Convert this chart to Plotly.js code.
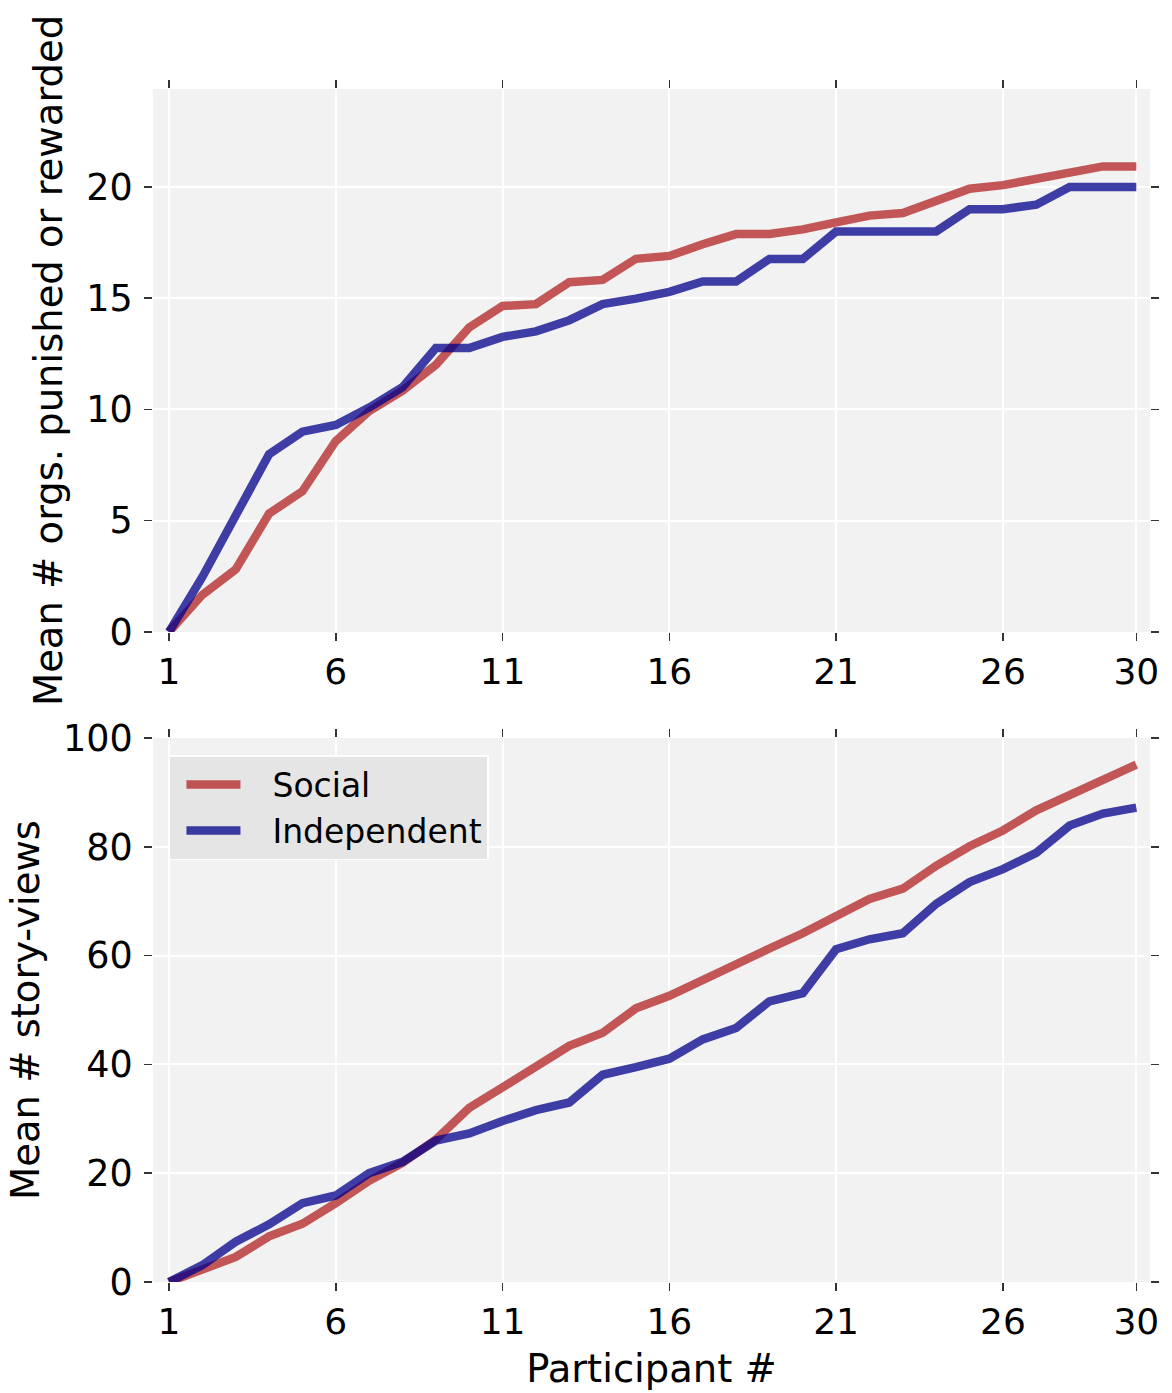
<!DOCTYPE html>
<html>
<head>
<meta charset="utf-8">
<script src="https://cdn.plot.ly/plotly-3.0.1.min.js"></script>
<style>html,body{margin:0;padding:0;background:#fff;}#chart{width:1172px;height:1393px;}</style>
</head>
<body>
<div id="chart"></div>
<script>
const participants = Array.from({length: 30}, (_, i) => i + 1);
const xTickVals = [1, 6, 11, 16, 21, 26, 30];
const xTickText = ["1", "6", "11", "16", "21", "26", "30"];

const orgsSocial = [0, 1.67, 2.81, 5.32, 6.32, 8.58, 9.92, 10.84, 12.0, 13.68,
  14.65, 14.73, 15.72, 15.82, 16.77, 16.9, 17.42, 17.88, 17.88, 18.09,
  18.41, 18.71, 18.83, 19.33, 19.92, 20.08, 20.35, 20.7, 20.92, 20.92];
const orgsIndependent = [0, 2.47, 5.23, 7.99, 9.0, 9.3, 10.08, 11.0, 12.76, 12.76,
  13.26, 13.51, 14.01, 14.73, 14.98, 15.28, 15.75, 15.75, 16.76, 16.76,
  18.0, 18.0, 18.0, 18.0, 19.0, 19.0, 19.2, 20.0, 20.0, 20.0];

const viewsSocial = [0, 2.25, 4.6, 8.4, 10.7, 14.5, 18.6, 21.9, 26.2, 32.0,
  35.7, 39.8, 43.4, 45.8, 50.3, 52.6, 55.5, 58.8, 61.3, 64.1,
  67.3, 70.4, 72.3, 76.5, 80.1, 83.0, 86.7, 89.5, 92.4, 95.1];
const viewsIndependent = [0, 3.1, 7.4, 10.6, 14.5, 15.9, 20.0, 22.1, 26.0, 27.3,
  29.6, 31.6, 33.0, 38.1, 39.5, 41.05, 44.6, 46.7, 51.6, 53.1,
  61.2, 63.0, 64.1, 69.5, 73.5, 75.9, 78.9, 83.9, 86.1, 87.2];

const seriesNames = ["Social", "Independent"];
const legendGap = "\u2002\u00a0";

const socialColor = "rgba(178,34,34,0.75)";
const indepColor = "rgba(0,0,139,0.75)";
const FONT = "DejaVu Sans, sans-serif";

const traces = [
  {x: participants, y: orgsSocial, xaxis: "x", yaxis: "y", type: "scatter", mode: "lines",
   name: legendGap + seriesNames[0], line: {color: socialColor, width: 8.5}, showlegend: false},
  {x: participants, y: orgsIndependent, xaxis: "x", yaxis: "y", type: "scatter", mode: "lines",
   name: legendGap + seriesNames[1], line: {color: indepColor, width: 8.5}, showlegend: false},
  {x: participants, y: viewsSocial, xaxis: "x2", yaxis: "y2", type: "scatter", mode: "lines",
   name: legendGap + seriesNames[0], line: {color: socialColor, width: 8.5}},
  {x: participants, y: viewsIndependent, xaxis: "x2", yaxis: "y2", type: "scatter", mode: "lines",
   name: legendGap + seriesNames[1], line: {color: indepColor, width: 8.5}}
];

const xBase = {
  range: [0.52, 30.41], tickmode: "array", tickvals: xTickVals, ticktext: xTickText,
  ticks: "outside", ticklen: 8, tickwidth: 1.5, tickcolor: "#333", mirror: "ticks",
  showline: false, zeroline: false, showgrid: true, gridcolor: "#ffffff", gridwidth: 2,
  tickfont: {family: FONT, size: 36, color: "#000"}
};
const yBase = {
  ticks: "outside", ticklen: 8, tickwidth: 1.5, tickcolor: "#333", mirror: "ticks",
  showline: false, zeroline: false, showgrid: true, gridcolor: "#ffffff", gridwidth: 2,
  tickfont: {family: FONT, size: 36.5, color: "#000"}, ticklabelstandoff: 4
};

const layout = {
  width: 1172, height: 1393,
  margin: {l: 153, r: 22, t: 89, b: 111},
  paper_bgcolor: "#ffffff", plot_bgcolor: "#f2f2f2",
  font: {family: FONT, color: "#000"},
  xaxis: Object.assign({}, xBase, {anchor: "y", domain: [0, 1]}),
  yaxis: Object.assign({}, yBase, {anchor: "x", domain: [0.5449, 1], range: [0, 24.4],
    tickvals: [0, 5, 10, 15, 20],
    title: {text: "Mean # orgs. punished or rewarded", font: {family: FONT, size: 38.5, color: "#000"}, standoff: 11}}),
  xaxis2: Object.assign({}, xBase, {anchor: "y2", domain: [0, 1],
    title: {text: "Participant #", font: {family: FONT, size: 38.5, color: "#000"}, standoff: 13}}),
  yaxis2: Object.assign({}, yBase, {anchor: "x2", domain: [0, 0.456], range: [0, 100],
    tickvals: [0, 20, 40, 60, 80, 100],
    title: {text: "Mean # story-views", font: {family: FONT, size: 38.5, color: "#000"}, standoff: 11}}),
  showlegend: true,
  legend: {x: 0.016, y: 0.4417, xanchor: "left", yanchor: "top",
    bgcolor: "#e5e5e5", bordercolor: "#ffffff", borderwidth: 1.5,
    font: {family: FONT, size: 33, color: "#000"}, itemwidth: 54, indentation: 11, tracegroupgap: 0}
};

Plotly.newPlot("chart", traces, layout, {staticPlot: true, displayModeBar: false});
</script>
</body>
</html>
